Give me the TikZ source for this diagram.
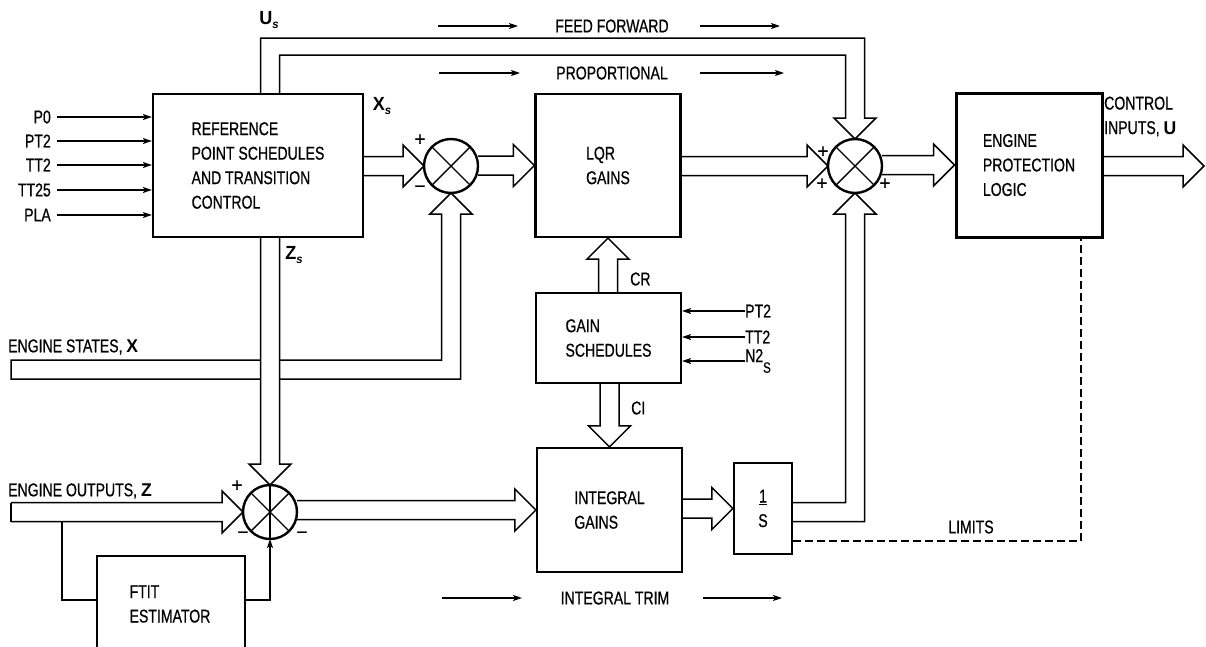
\documentclass[tikz,border=0pt]{standalone}
\usepackage{fontspec}
\setmainfont{Liberation Sans}[FakeStretch=0.76,FakeBold=0.6]
\newfontfamily\bsans{Liberation Sans}[FakeStretch=0.95]
\newfontfamily\signfont{Liberation Sans}[FakeBold=1.2]
\usetikzlibrary{calc,arrows.meta}
\pgfdeclarelayer{bg}\pgfsetlayers{bg,main}
\def\pw{9.5}\def\hw{21}\def\hl{21}
\newcommand\hpipe[3][]{\draw[pipe,#1] ($(#2|-#3)+(0,-\pw)$) -- ($(#3)+(-\hl,-\pw)$) -- ($(#3)+(-\hl,-\hw)$) -- (#3) -- ($(#3)+(-\hl,\hw)$) -- ($(#3)+(-\hl,\pw)$) -- ($(#2|-#3)+(0,\pw)$);}
\newcommand\vpipe[4][]{\draw[pipe,#1] ($(#3|-#2)+(-\pw,0)$) -- ($(#3)+({-\pw},{-(#4)*\hl})$) -- ($(#3)+({-\hw},{-(#4)*\hl})$) -- (#3) -- ($(#3)+({\hw},{-(#4)*\hl})$) -- ($(#3)+({\pw},{-(#4)*\hl})$) -- ($(#3|-#2)+(\pw,0)$);}
\begin{document}
\begin{tikzpicture}[x=1pt,y=-1pt,font=\fontsize{18.5}{24.5}\selectfont,
 blk/.style={draw,line width=2.2pt,inner sep=0pt,align=left},
 sum/.style={draw,circle,line width=2.4pt,minimum size=54pt,inner sep=0pt,outer sep=0pt},
 pipe/.style={line width=1.5pt,line join=miter},
 sig/.style={-{Stealth[length=9pt,width=6pt,inset=2pt]},line width=1.3pt},
 txt/.style={inner sep=0pt},
 pm/.style={inner sep=0pt,font=\fontsize{19}{19}\selectfont\signfont},
 vlab/.style={inner sep=0pt,font=\fontsize{19}{19}\selectfont\bsans\bfseries}]
\useasboundingbox (0,0) rectangle (1206,646);

% blocks
\node[blk,minimum width=210,minimum height=143] (ref) at (258,165.5) {REFERENCE\\POINT SCHEDULES\\AND TRANSITION\\CONTROL};
\node[blk,minimum width=145,minimum height=143] (lqr) at (608,165.5) {LQR\\GAINS};
\node[blk,line width=3pt,minimum width=146,minimum height=144] (epl) at (1029,165) {ENGINE\\PROTECTION\\LOGIC};
\node[blk,minimum width=145,minimum height=90] (gs) at (608.5,338) {GAIN\\SCHEDULES};
\node[blk,minimum width=145,minimum height=124] (int) at (609.5,510) {INTEGRAL\\GAINS};
\node[blk,minimum width=58,minimum height=91,align=center] (ons) at (763,508.5) {\underline{1}\\S};
\node[blk,minimum width=148,minimum height=110] (ftit) at (171,611) {};
\node[txt,align=left] (ftitT) at (170,604) {FTIT\\ESTIMATOR};

% summing junctions
\node[sum] (s1) at (451,166) {};
\node[sum] (s2) at (270,512) {};
\node[sum] (s3) at (855,166) {};
\foreach \s in {s1,s2,s3}{\draw[line width=1.4pt] (\s.north west) -- (\s.south east) (\s.north east) -- (\s.south west);}
\draw[line width=1.4pt] (s2.north) -- (s2.south);

% helper coordinates
\coordinate (eo) at (11,512);
\coordinate (es) at (11,369.5);
\coordinate (ffo) at (0,38);
\coordinate (ffi) at (0,55);
\coordinate (io) at (0,512);
\coordinate (tipU) at (1204,166);
\coordinate (dl) at (0,541);
\coordinate (dx) at (1081,0);
\coordinate (fy) at (0,600);
\coordinate (br) at (62,0);

\begin{pgfonlayer}{bg}
\hpipe{ref.east}{s1.west}
\hpipe{s1.east}{lqr.west}
\hpipe{lqr.east}{s3.west}
\hpipe{s3.east}{epl.west}
\hpipe{epl.east}{tipU}
\hpipe{s2.east}{int.west}
\hpipe{int.east}{ons.west}
\hpipe{eo}{s2.west}
\draw[pipe] ($(eo)+(0,-\pw)$) -- ($(eo)+(0,\pw)$);
\vpipe{gs.north}{lqr.south}{-1}
\vpipe{gs.south}{int.north}{1}
% engine states
\draw[pipe] ($(es)+(0,-\pw)$) -- ($(s1.south|-es)+(-\pw,-\pw)$) -- ($(s1.south)+(-\pw,\hl)$) -- ($(s1.south)+(-\hw,\hl)$) -- (s1.south) -- ($(s1.south)+(\hw,\hl)$) -- ($(s1.south)+(\pw,\hl)$) -- ($(s1.south|-es)+(\pw,\pw)$) -- ($(es)+(0,\pw)$) -- cycle;
% Zs
\vpipe[fill=white]{ref.south}{s2.north}{1}
% Us feed forward
\draw[pipe] ($(s2.north|-ref.north)+(-\pw,0)$) -- ($(s2.north|-ffo)+(-\pw,0)$) -- ($(s3.north|-ffo)+(\pw,0)$) -- ($(s3.north)+(\pw,-\hl)$) -- ($(s3.north)+(\hw,-\hl)$) -- (s3.north) -- ($(s3.north)+(-\hw,-\hl)$) -- ($(s3.north)+(-\pw,-\hl)$) -- ($(s3.north|-ffi)+(-\pw,0)$) -- ($(s2.north|-ffi)+(\pw,0)$) -- ($(s2.north|-ref.north)+(\pw,0)$);
% integral trim
\draw[pipe] ($(ons.east|-io)+(0,-\pw)$) -- ($(s3.south|-io)+(-\pw,-\pw)$) -- ($(s3.south)+(-\pw,\hl)$) -- ($(s3.south)+(-\hw,\hl)$) -- (s3.south) -- ($(s3.south)+(\hw,\hl)$) -- ($(s3.south)+(\pw,\hl)$) -- ($(s3.south|-io)+(\pw,\pw)$) -- ($(ons.east|-io)+(0,\pw)$);
\end{pgfonlayer}

% limits
\draw[line width=1.5pt,dash pattern=on 8pt off 4pt] (ons.east|-dl) -- (dx|-dl) -- (dx|-epl.south);
\node[txt] (lim) at (971,527) {LIMITS};

% FTIT estimator connections
\draw[line width=1.3pt] (br|-s2.west) ++(0,\pw) -- (br|-fy) -- (ftit.west|-fy);
\draw[sig] (ftit.east|-fy) -- (s2.south|-fy) -- (s2.south);

% reference inputs
\foreach \t/\y [count=\i] in {P0/117,PT2/141,TT2/165,TT25/190,PLA/215}{
 \node[txt,anchor=east] (in\i) at (51,\y) {\t};
 \draw[sig] ($(in\i.east)+(6,0)$) -- (ref.west|-in\i.east);}

% gain schedule inputs
\node[txt,anchor=west] (g1) at (745,311) {PT2};
\node[txt,anchor=west] (g2) at (745,337) {TT2};
\node[txt,anchor=west] (g3) at (745,361) {N2\raisebox{-1.1ex}{\fontsize{15}{15}\selectfont S}};
\foreach \g in {g1,g2}{\draw[sig] (\g.west) -- (gs.east|-\g.west);}
\draw[sig] (g3.west|-0,361) -- (gs.east|-0,361);

% labels
\node[vlab] (us) at (269,20) {U\raisebox{-0.4ex}{\fontsize{12}{12}\selectfont\itshape s}};
\node[vlab] (xs) at (382,106) {X\raisebox{-0.4ex}{\fontsize{12}{12}\selectfont\itshape s}};
\node[vlab] (zs) at (294,255) {Z\raisebox{-0.4ex}{\fontsize{12}{12}\selectfont\itshape s}};
\node[txt,anchor=west] (esl) at (8,347) {ENGINE STATES, {\bsans\bfseries X}};
\node[txt,anchor=west] (eol) at (8,491) {ENGINE OUTPUTS, {\bsans\bfseries Z}};
\node[txt,anchor=west,align=left] (cil) at (1104,116.5) {CONTROL\\INPUTS, {\bsans\bfseries U}};
\node[txt,anchor=west] (cr) at (630,279) {CR};
\node[txt,anchor=west] (ci) at (631,408) {CI};

% signs
\node[pm] (p1) at (420,140) {+};
\node[pm] (m1) at (420,189) {−};
\node[pm] (p2) at (237,486) {+};
\node[pm] (m2) at (243,535) {−};
\node[pm] (m3) at (302,535) {−};
\node[pm] (p3) at (823,152) {+};
\node[pm] (p4) at (822,184) {+};
\node[pm] (p5) at (885,184) {+};

% flow annotations
\node[txt] (ff) at (612,26) {FEED FORWARD};
\node[txt] (pr) at (612,73) {PROPORTIONAL};
\node[txt] (it) at (615,598) {INTEGRAL TRIM};
\coordinate (a1) at (438,26); \coordinate (a2) at (518,26);
\coordinate (a3) at (700,26); \coordinate (a4) at (780,26);
\coordinate (b1) at (439,73); \coordinate (b2) at (520,73);
\coordinate (b3) at (700,73); \coordinate (b4) at (784,73);
\coordinate (c1) at (442,598); \coordinate (c2) at (522,598);
\coordinate (c3) at (703,598); \coordinate (c4) at (782,598);
\draw[sig] (a1) -- (a2); \draw[sig] (a3) -- (a4);
\draw[sig] (b1) -- (b2); \draw[sig] (b3) -- (b4);
\draw[sig] (c1) -- (c2); \draw[sig] (c3) -- (c4);
\end{tikzpicture}
\end{document}
